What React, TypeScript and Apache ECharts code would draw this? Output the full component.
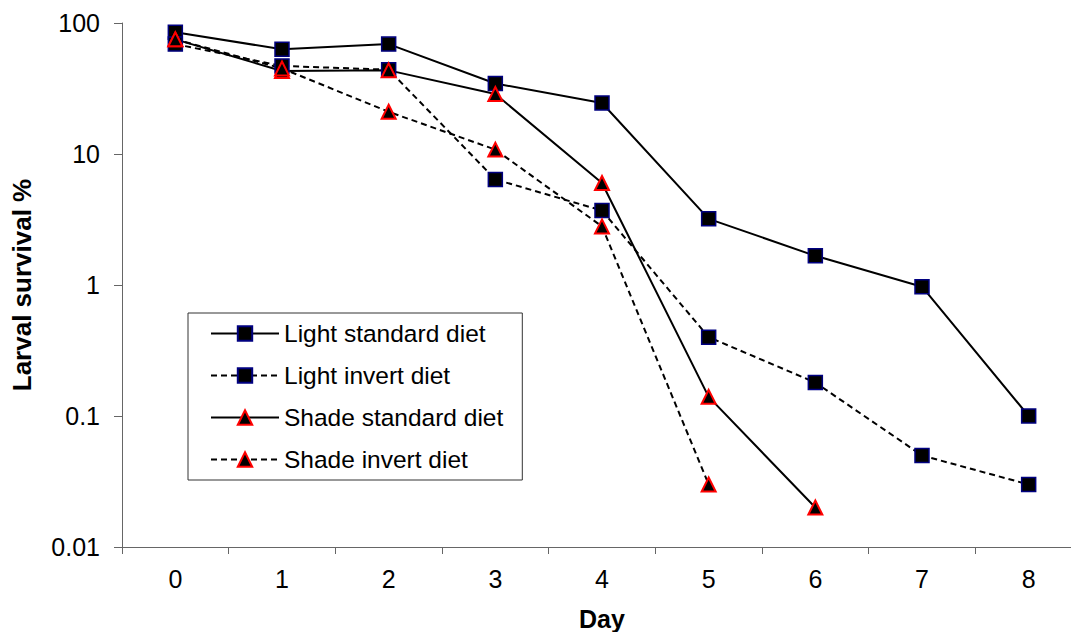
import React, { useEffect, useRef } from "react";
import * as echarts from "echarts";

// Survival (%) of larvae by day for each light / diet treatment
const days = ["0", "1", "2", "3", "4", "5", "6", "7", "8"];
const lightStandard = [85, 63, 69, 34.5, 24.5, 3.2, 1.67, 0.97, 0.1];
const lightInvert = [69, 47, 44, 6.4, 3.7, 0.4, 0.18, 0.05, 0.03];
const shadeStandard = [75, 43, 43.5, 28.7, 6.0, 0.14, 0.02];
const shadeInvert = [75, 45, 21, 10.8, 2.8, 0.03];

const FONT = "'Liberation Sans', Arial, sans-serif";

const squareMarker = {
  symbol: "rect",
  symbolSize: 14,
  itemStyle: { color: "#000000", borderColor: "#000080", borderWidth: 1.5 },
};
const triangleMarker = {
  symbol: "triangle",
  symbolSize: 14,
  itemStyle: { color: "#000000", borderColor: "#ff0000", borderWidth: 2 },
};

const solid = { color: "#000000", width: 2, type: "solid" as const };
const dashed = { color: "#000000", width: 2, type: [6, 4] as any };

export default function App() {
  const ref = useRef<HTMLDivElement>(null);

  useEffect(() => {
    if (!ref.current) return;
    const chart = echarts.init(ref.current, null, { renderer: "svg" });
    chart.setOption({
      animation: false,
      backgroundColor: "#ffffff",
      textStyle: { fontFamily: FONT },
      grid: {
        left: 122,
        right: -11,
        top: 23,
        bottom: 85,
        containLabel: false,
        outerBoundsMode: "none",
      },
      legend: {
        orient: "vertical",
        left: 188,
        top: 313,
        padding: [8, 19, 8, 22],
        itemGap: 17,
        itemWidth: 68,
        itemHeight: 18,
        borderColor: "#333333",
        borderWidth: 1,
        selectedMode: false,
        textStyle: { fontSize: 24.5, color: "#000000", fontFamily: FONT },
        data: [
          "Light standard diet",
          "Light invert diet",
          "Shade standard diet",
          "Shade invert diet",
        ],
      },
      xAxis: {
        type: "category",
        data: days,
        boundaryGap: true,
        name: "Day",
        nameLocation: "middle",
        nameGap: 59,
        nameTextStyle: { fontSize: 25, fontWeight: "bold", color: "#000000", fontFamily: FONT },
        axisLine: { lineStyle: { color: "#666666", width: 1 } },
        axisTick: { show: true, length: 7, lineStyle: { color: "#666666" } },
        axisLabel: { fontSize: 25, color: "#000000", margin: 19, fontFamily: FONT },
        splitLine: { show: false },
      },
      yAxis: {
        type: "log",
        logBase: 10,
        min: 0.01,
        max: 100,
        name: "Larval survival %",
        nameLocation: "middle",
        nameGap: 87,
        nameTextStyle: { fontSize: 26, fontWeight: "bold", color: "#000000", fontFamily: FONT },
        axisLine: { show: true, lineStyle: { color: "#666666", width: 1 } },
        axisTick: { show: true, length: 8, lineStyle: { color: "#666666" } },
        axisLabel: {
          fontSize: 25,
          color: "#000000",
          margin: 22,
          fontFamily: FONT,
          formatter: (v: number) => String(+v.toPrecision(6)),
        },
        splitLine: { show: false },
        minorTick: { show: false },
      },
      series: [
        {
          name: "Light standard diet",
          type: "line",
          data: lightStandard,
          lineStyle: solid,
          ...squareMarker,
        },
        {
          name: "Light invert diet",
          type: "line",
          data: lightInvert,
          lineStyle: dashed,
          ...squareMarker,
        },
        {
          name: "Shade standard diet",
          type: "line",
          data: shadeStandard,
          lineStyle: solid,
          ...triangleMarker,
        },
        {
          name: "Shade invert diet",
          type: "line",
          data: shadeInvert,
          lineStyle: dashed,
          ...triangleMarker,
        },
      ],
    });
    return () => chart.dispose();
  }, []);

  return (
    <div
      ref={ref}
      style={{ position: "absolute", left: 0, top: 0, width: 1071, height: 632 }}
    />
  );
}
